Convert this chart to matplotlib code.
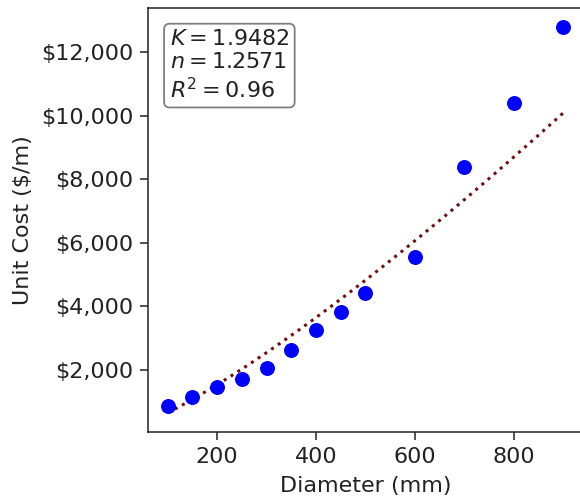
import matplotlib.pyplot as plt
import matplotlib.ticker as mticker
import numpy as np

# pipe diameter vs. unit cost
diameter = np.array([100, 150, 200, 250, 300, 350, 400, 450, 500, 600, 700, 800, 900])
unit_cost = np.array([840, 1150, 1440, 1690, 2060, 2620, 3230, 3800, 4400, 5560, 8370, 10390, 12780])

# power-law fit: cost = K * D^n
K = 1.9482
n = 1.2571
r2 = 0.96

fig = plt.figure(figsize=(5.8, 5.03), dpi=100)
ax = fig.add_axes([0.255, 0.141, 0.75, 0.843])

ax.scatter(diameter, unit_cost, color='blue', s=95, zorder=3)
d_fit = np.linspace(diameter.min(), diameter.max(), 200)
ax.plot(d_fit, K * d_fit ** n, linestyle=':', color='#6e1010', lw=2.2, zorder=2)

ax.yaxis.set_major_formatter(mticker.StrMethodFormatter('${x:,.0f}'))
ax.set_xticks([200, 400, 600, 800])
ax.set_yticks([2000, 4000, 6000, 8000, 10000, 12000])
ax.tick_params(labelsize=16, length=5.5, width=1.1, pad=5, colors='#222222')
ax.set_xlabel('Diameter (mm)', fontsize=16, labelpad=7, color='#222222')
ax.set_ylabel('Unit Cost ($/m)', fontsize=16, labelpad=6, color='#222222')
for side in ax.spines.values():
    side.set_linewidth(1.1)
    side.set_color('#222222')

label = f'$K = {K}$\n$n = {n}$\n$R^2 = {r2}$'
ax.text(0.05, 0.95, label, transform=ax.transAxes, fontsize=16, va='top', ha='left',
        linespacing=1.2, color='#222222',
        bbox=dict(boxstyle='round,pad=0.25', facecolor='white', edgecolor='grey', lw=1.3))

plt.savefig('out.png', dpi=100)
plt.close()
